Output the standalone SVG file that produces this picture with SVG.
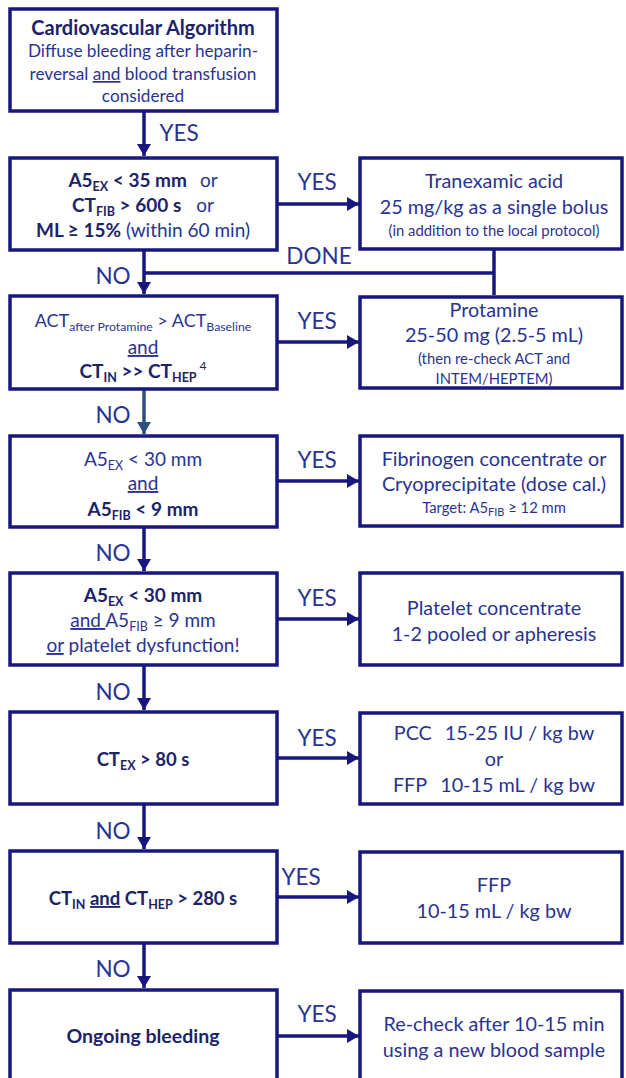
<svg xmlns="http://www.w3.org/2000/svg" width="626" height="1078" viewBox="0 0 626 1078">
<style>
.box{fill:#fff;stroke:#17177f;stroke-width:3.5}
.ln{fill:none;stroke:#17177f;stroke-width:3.5}
text{font-family:Lato,"Open Sans","Liberation Sans",sans-serif;fill:#2a3490;text-anchor:middle}
.b{font-weight:bold;fill:#1b2468}
.t{font-size:17.2px}
.m{font-size:19px}
.r{font-size:19.8px}
.s{font-size:14.8px}
.lab{font-size:22.5px;fill:#2a3490}
.u{text-decoration:underline}
</style>
<defs>
<marker id="ah" viewBox="0 0 12 14" refX="12" refY="7" markerWidth="12" markerHeight="14" markerUnits="userSpaceOnUse" orient="auto">
<path d="M0,0 L12,7 L0,14 z" fill="#17177f"/>
</marker>
<marker id="ah2" viewBox="0 0 12 14" refX="12" refY="7" markerWidth="12" markerHeight="14" markerUnits="userSpaceOnUse" orient="auto">
<path d="M0,0 L12,7 L0,14 z" fill="#2f4f7f"/>
</marker>
</defs>

<g id="connectors">
<line class="ln" x1="144" y1="112" x2="144" y2="156" marker-end="url(#ah)"/>
<line class="ln" x1="277" y1="204" x2="359" y2="204" marker-end="url(#ah)"/>
<line class="ln" x1="144" y1="251" x2="144" y2="294" marker-end="url(#ah)"/>
<polyline class="ln" points="144,273 494,273"/>
<line class="ln" x1="494" y1="250" x2="494" y2="295"/>
<line class="ln" x1="277" y1="342" x2="359" y2="342" marker-end="url(#ah)"/>
<line x1="144" y1="389" x2="144" y2="434" stroke="#2f4f7f" stroke-width="3.5" marker-end="url(#ah2)"/>
<line class="ln" x1="277" y1="481" x2="359" y2="481" marker-end="url(#ah)"/>
<line class="ln" x1="144" y1="527" x2="144" y2="571" marker-end="url(#ah)"/>
<line class="ln" x1="277" y1="619" x2="359" y2="619" marker-end="url(#ah)"/>
<line class="ln" x1="144" y1="665" x2="144" y2="710" marker-end="url(#ah)"/>
<line class="ln" x1="277" y1="758" x2="359" y2="758" marker-end="url(#ah)"/>
<line class="ln" x1="144" y1="804" x2="144" y2="849" marker-end="url(#ah)"/>
<line class="ln" x1="277" y1="897" x2="359" y2="897" marker-end="url(#ah)"/>
<line class="ln" x1="144" y1="943" x2="144" y2="988" marker-end="url(#ah)"/>
<line class="ln" x1="277" y1="1036" x2="359" y2="1036" marker-end="url(#ah)"/>
<text class="lab" x="179" y="141">YES</text>
<text class="lab" x="317" y="190">YES</text>
<text class="lab" x="319" y="264">DONE</text>
<text class="lab" x="113" y="284">NO</text>
<text class="lab" x="317" y="329">YES</text>
<text class="lab" x="113" y="423">NO</text>
<text class="lab" x="317" y="468">YES</text>
<text class="lab" x="113" y="561">NO</text>
<text class="lab" x="317" y="606">YES</text>
<text class="lab" x="113" y="700">NO</text>
<text class="lab" x="317" y="746">YES</text>
<text class="lab" x="113" y="839">NO</text>
<text class="lab" x="301" y="885">YES</text>
<text class="lab" x="113" y="977">NO</text>
<text class="lab" x="317" y="1022">YES</text>
</g>

<g id="n-start">
<rect class="box" x="10" y="9" width="267" height="102"/>
<text class="b" x="143" y="35" font-size="20">Cardiovascular Algorithm</text>
<text class="t" x="143" y="57">Diffuse bleeding after heparin-</text>
<text class="t" x="143" y="80">reversal <tspan class="u">and</tspan> blood transfusion</text>
<text class="t" x="143" y="102">considered</text>
</g>

<g id="n-q1">
<rect class="box" x="10" y="158" width="267" height="92"/>
<text class="m" x="143" y="187"><tspan class="b">A5<tspan font-size="12.5" dy="4">EX</tspan><tspan dy="-4"> &lt; 35 mm</tspan></tspan><tspan dx="13">or</tspan></text>
<text class="m" x="143" y="212"><tspan class="b">CT<tspan font-size="12.5" dy="4">FIB</tspan><tspan dy="-4"> &gt; 600 s</tspan></tspan><tspan dx="15">or</tspan></text>
<text class="m" x="143" y="237"><tspan class="b">ML ≥ 15%</tspan> (within 60 min)</text>
</g>

<g id="n-a1">
<rect class="box" x="360" y="158" width="262" height="91"/>
<text class="r" x="494" y="188">Tranexamic acid</text>
<text class="r" x="494" y="214">25 mg/kg as a single bolus</text>
<text class="s" x="494" y="236">(in addition to the local protocol)</text>
</g>

<g id="n-q2">
<rect class="box" x="10" y="296" width="267" height="93"/>
<text x="143" y="327" font-size="18">ACT<tspan font-size="12.3" dy="3.5">after Protamine</tspan><tspan dy="-3.5"> &gt; ACT</tspan><tspan font-size="12.3" dy="3.5">Baseline</tspan></text>
<text class="m" x="143" y="354"><tspan class="u">and</tspan></text>
<text class="m b" x="143" y="378">CT<tspan font-size="12.5" dy="4">IN</tspan><tspan dy="-4"> &gt;&gt; CT</tspan><tspan font-size="12.5" dy="4">HEP</tspan><tspan font-size="12" font-weight="normal" dx="3" dy="-12">4</tspan></text>
</g>

<g id="n-a2">
<rect class="box" x="360" y="297" width="262" height="91"/>
<text class="r" x="494" y="317">Protamine</text>
<text class="r" x="494" y="342">25-50 mg (2.5-5 mL)</text>
<text class="s" x="494" y="364">(then re-check ACT and</text>
<text class="s" x="494" y="384">INTEM/HEPTEM)</text>
</g>

<g id="n-q3">
<rect class="box" x="10" y="436" width="267" height="91"/>
<text class="m" x="143" y="466">A5<tspan font-size="12.5" dy="4">EX</tspan><tspan dy="-4"> &lt; 30 mm</tspan></text>
<text class="m" x="143" y="490"><tspan class="u">and</tspan></text>
<text class="m b" x="143" y="516">A5<tspan font-size="12.5" dy="4">FIB</tspan><tspan dy="-4"> &lt; 9 mm</tspan></text>
</g>

<g id="n-a3">
<rect class="box" x="360" y="436" width="262" height="90"/>
<text class="r" x="494" y="466">Fibrinogen concentrate or</text>
<text class="r" x="494" y="491">Cryoprecipitate (dose cal.)</text>
<text class="s" x="494" y="513">Target: A5<tspan font-size="11" dy="3">FIB</tspan><tspan dy="-3"> ≥ 12 mm</tspan></text>
</g>

<g id="n-q4">
<rect class="box" x="10" y="573" width="267" height="92"/>
<text class="m b" x="143" y="602">A5<tspan font-size="12.5" dy="4">EX</tspan><tspan dy="-4"> &lt; 30 mm</tspan></text>
<text class="m" x="143" y="627"><tspan class="u">and </tspan>A5<tspan font-size="12.5" dy="4">FIB</tspan><tspan dy="-4"> ≥ 9 mm</tspan></text>
<text class="m" x="143" y="652"><tspan class="u">or</tspan> platelet dysfunction!</text>
</g>

<g id="n-a4">
<rect class="box" x="360" y="573" width="262" height="92"/>
<text class="r" x="494" y="615">Platelet concentrate</text>
<text class="r" x="494" y="641">1-2 pooled or apheresis</text>
</g>

<g id="n-q5">
<rect class="box" x="10" y="712" width="267" height="92"/>
<text class="b" x="143" y="766" font-size="18.5">CT<tspan font-size="12.5" dy="4">EX</tspan><tspan dy="-4"> &gt; 80 s</tspan></text>
</g>

<g id="n-a5">
<rect class="box" x="360" y="713" width="262" height="91"/>
<text class="r" x="494" y="740">PCC<tspan dx="13">15-25 IU / kg bw</tspan></text>
<text class="r" x="494" y="766">or</text>
<text class="r" x="494" y="792">FFP<tspan dx="13">10-15 mL / kg bw</tspan></text>
</g>

<g id="n-q6">
<rect class="box" x="10" y="851" width="267" height="92"/>
<text class="b" x="143" y="905" font-size="18.5">CT<tspan font-size="12.5" dy="4">IN</tspan><tspan dy="-4"> </tspan><tspan class="u">and</tspan> CT<tspan font-size="12.5" dy="4">HEP</tspan><tspan dy="-4"> &gt; 280 s</tspan></text>
</g>

<g id="n-a6">
<rect class="box" x="360" y="852" width="262" height="91"/>
<text class="r" x="494" y="892">FFP</text>
<text class="r" x="494" y="918">10-15 mL / kg bw</text>
</g>

<g id="n-q7">
<rect class="box" x="10" y="990" width="267" height="95"/>
<text class="b" x="143" y="1043" font-size="19.5">Ongoing bleeding</text>
</g>

<g id="n-a7">
<rect class="box" x="360" y="991" width="262" height="95"/>
<text class="r" x="494" y="1031">Re-check after 10-15 min</text>
<text class="r" x="494" y="1057">using a new blood sample</text>
</g>
</svg>
